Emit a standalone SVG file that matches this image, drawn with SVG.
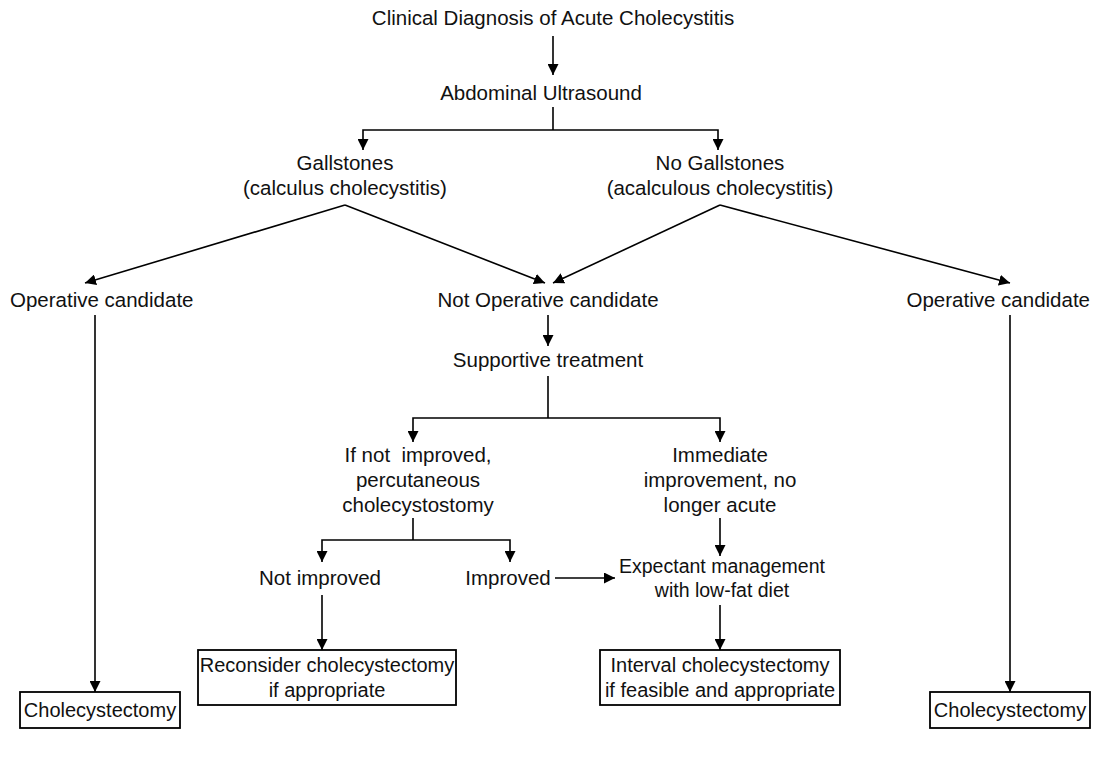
<svg xmlns="http://www.w3.org/2000/svg" width="1095" height="759" viewBox="0 0 1095 759">
  <defs>
    <marker id="arrow" viewBox="0 0 10 10" refX="10" refY="5" markerWidth="11" markerHeight="11" markerUnits="userSpaceOnUse" orient="auto">
      <path d="M0,0 L10,5 L0,10 z" fill="#000"/>
    </marker>
  </defs>
  <style>
    text { font-family: "Liberation Sans", Arial, sans-serif; font-size: 20.5px; fill: #111; }
    .b { font-size: 20px; }
    .m { font-size: 19.5px; }
    .c { text-anchor: middle; }
    .s { text-anchor: start; }
    .e { text-anchor: end; }
    .ln { fill: none; stroke: #000; stroke-width: 1.6; }
    .ar { fill: none; stroke: #000; stroke-width: 1.6; marker-end: url(#arrow); }
    .box { fill: #fff; stroke: #000; stroke-width: 1.8; }
  </style>
  <rect width="1095" height="759" fill="#fff"/>

  <!-- connectors -->
  <g id="connectors">
    <line class="ar" x1="553" y1="36" x2="553" y2="75"/>
    <polyline class="ln" points="553,107 553,130"/>
    <polyline class="ar" points="553,130 363,130 363,150"/>
    <polyline class="ar" points="553,130 718,130 718,150"/>
    <line class="ar" x1="345" y1="205" x2="85" y2="283"/>
    <line class="ar" x1="345" y1="205" x2="545" y2="283"/>
    <line class="ar" x1="720" y1="205" x2="553" y2="283"/>
    <line class="ar" x1="720" y1="205" x2="1010" y2="283"/>
    <line class="ar" x1="95" y1="315" x2="95" y2="692"/>
    <line class="ar" x1="548" y1="315" x2="548" y2="346"/>
    <line class="ln" x1="548" y1="376" x2="548" y2="418"/>
    <polyline class="ar" points="548,418 413,418 413,442"/>
    <polyline class="ar" points="548,418 720,418 720,442"/>
    <line class="ln" x1="413" y1="518" x2="413" y2="540"/>
    <polyline class="ar" points="413,540 322,540 322,562"/>
    <polyline class="ar" points="413,540 510,540 510,562"/>
    <line class="ar" x1="555" y1="578" x2="615" y2="578"/>
    <line class="ar" x1="720" y1="518" x2="720" y2="556"/>
    <line class="ar" x1="322" y1="595" x2="322" y2="650"/>
    <line class="ar" x1="720" y1="605" x2="720" y2="650"/>
    <line class="ar" x1="1010" y1="315" x2="1010" y2="692"/>
  </g>

  <g id="n-diagnosis"><text class="c" x="553" y="25">Clinical Diagnosis of Acute Cholecystitis</text></g>
  <g id="n-ultrasound"><text class="c" x="541" y="100">Abdominal Ultrasound</text></g>
  <g id="n-gallstones">
    <text class="c" x="345" y="170">Gallstones</text>
    <text class="c" x="345" y="195">(calculus cholecystitis)</text>
  </g>
  <g id="n-no-gallstones">
    <text class="c" x="720" y="170">No Gallstones</text>
    <text class="c" x="720" y="195">(acalculous cholecystitis)</text>
  </g>
  <g id="n-operative-left"><text class="s" x="10" y="307">Operative candidate</text></g>
  <g id="n-not-operative"><text class="c" x="548" y="307">Not Operative candidate</text></g>
  <g id="n-operative-right"><text class="e" x="1090" y="307">Operative candidate</text></g>
  <g id="n-supportive"><text class="c" x="548" y="367">Supportive treatment</text></g>
  <g id="n-cholecystostomy">
    <text class="c" x="418" y="462" xml:space="preserve">If not  improved,</text>
    <text class="c" x="418" y="487">percutaneous</text>
    <text class="c" x="418" y="512">cholecystostomy</text>
  </g>
  <g id="n-immediate">
    <text class="c" x="720" y="462">Immediate</text>
    <text class="c" x="720" y="487">improvement, no</text>
    <text class="c" x="720" y="512">longer acute</text>
  </g>
  <g id="n-not-improved"><text class="c" x="320" y="585">Not improved</text></g>
  <g id="n-improved"><text class="c" x="508" y="585">Improved</text></g>
  <g id="n-expectant">
    <text class="c m" x="722" y="573">Expectant management</text>
    <text class="c m" x="722" y="597">with low-fat diet</text>
  </g>
  <g id="n-chole-left">
    <rect class="box" x="20" y="692" width="160" height="36"/>
    <text class="c b" x="100" y="717">Cholecystectomy</text>
  </g>
  <g id="n-reconsider">
    <rect class="box" x="198" y="650" width="258" height="55"/>
    <text class="c b" x="327" y="672">Reconsider cholecystectomy</text>
    <text class="c b" x="327" y="697">if appropriate</text>
  </g>
  <g id="n-interval">
    <rect class="box" x="600" y="650" width="240" height="55"/>
    <text class="c b" x="720" y="672">Interval cholecystectomy</text>
    <text class="c b" x="720" y="697">if feasible and appropriate</text>
  </g>
  <g id="n-chole-right">
    <rect class="box" x="930" y="692" width="160" height="36"/>
    <text class="c b" x="1010" y="717">Cholecystectomy</text>
  </g>
</svg>
